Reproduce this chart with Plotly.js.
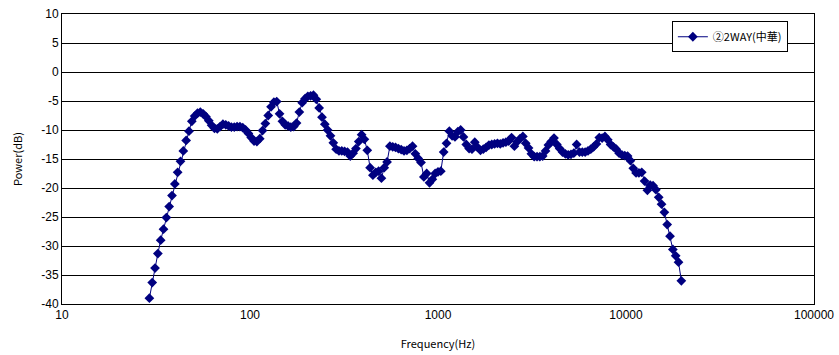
<!DOCTYPE html>
<html>
<head>
<meta charset="utf-8">
<script src="https://cdn.plot.ly/plotly-3.0.1.min.js"></script>
<style>
html,body{margin:0;padding:0;background:#fff;}
#chart{width:839px;height:355px;}
</style>
</head>
<body>
<div id="chart"></div>
<script>
// Frequencies (Hz), 1/20-octave points
const freqs = [
  29.16, 30.19,
  31.25, 32.35, 33.49, 34.67, 35.90, 37.16, 38.47, 39.83, 41.23, 42.69, 44.19, 45.75, 47.37, 49.04, 50.77, 52.56, 54.41, 56.33, 58.32, 60.37,
  62.5, 64.71, 66.99, 69.35, 71.79, 74.33, 76.95, 79.66, 82.47, 85.38, 88.39, 91.51, 94.73, 98.08, 101.5, 105.1, 108.8, 112.7, 116.6, 120.7,
  125, 129.4, 134.0, 138.7, 143.6, 148.7, 153.9, 159.3, 164.9, 170.8, 176.8, 183.0, 189.5, 196.2, 203.1, 210.2, 217.6, 225.3, 233.3, 241.5,
  250, 258.8, 268.0, 277.4, 287.2, 297.3, 307.8, 318.6, 329.9, 341.5, 353.6, 366.0, 378.9, 392.3, 406.1, 420.5, 435.3, 450.6, 466.5, 483.0,
  500, 517.6, 535.9, 554.8, 574.4, 594.6, 615.6, 637.3, 659.8, 683.0, 707.1, 732.0, 757.9, 784.6, 812.3, 840.9, 870.6, 901.3, 933.0, 965.9,
  1000, 1035, 1072, 1110, 1149, 1189, 1231, 1275, 1320, 1366, 1414, 1464, 1516, 1569, 1625, 1682, 1741, 1803, 1866, 1932,
  2000, 2071, 2144, 2219, 2297, 2378, 2462, 2549, 2639, 2732, 2828, 2928, 3031, 3138, 3249, 3364, 3482, 3605, 3732, 3864,
  4000, 4141, 4287, 4438, 4595, 4757, 4925, 5098, 5278, 5464, 5657, 5856, 6063, 6277, 6498, 6727, 6964, 7210, 7464, 7727,
  8000, 8282, 8574, 8877, 9190, 9514, 9849, 10197, 10556, 10928, 11314, 11713, 12126, 12553, 12996, 13454, 13929, 14420, 14929, 15455,
  16000, 16564, 17148, 17753, 18379, 19027, 19698
];
// Power (dB)
const power = [
  -39.0, -36.3, -33.8, -31.3, -29.0, -27.1, -25.1, -23.2, -21.3, -19.3, -17.3, -15.4, -13.6, -11.8, -10.2, -8.5, -7.6, -7.1, -6.9, -7.2, -7.7, -8.4,
  -9.2, -9.7, -9.8, -9.4, -9.0, -9.1, -9.3, -9.5, -9.5, -9.4, -9.4, -9.6, -10.0, -10.6, -11.3, -11.9, -12.0, -11.5, -10.1, -8.9,
  -7.5, -6.0, -5.2, -5.1, -7.2, -8.5, -9.1, -9.3, -9.5, -9.4, -8.8, -6.9, -5.3, -4.6, -4.2, -4.1, -4.0, -4.7, -6.2, -7.8,
  -9.0, -10.0, -11.0, -12.2, -13.3, -13.6, -13.6, -13.7, -13.8, -14.5, -14.0, -13.2, -12.0, -10.8, -11.6, -13.5, -16.5, -17.8, -17.3, -17.1,
  -18.3, -16.5, -15.5, -12.8, -12.9, -13.0, -13.2, -13.4, -13.6, -13.5, -13.2, -12.8, -14.1, -14.9, -15.6, -18.1, -17.5, -19.1, -18.5, -17.5,
  -17.2, -17.1, -13.8, -12.3, -10.2, -11.0, -11.2, -10.3, -10.0, -11.2, -12.5, -13.2, -13.3, -12.1, -13.0, -13.5, -13.3, -13.0, -12.6, -12.5,
  -12.4, -12.3, -12.4, -12.2, -12.1, -11.9, -11.3, -12.8, -12.0, -11.5, -11.1, -12.3, -13.1, -14.1, -14.6, -14.6, -14.6, -14.5, -13.6, -12.6,
  -12.0, -11.4, -12.5, -13.2, -13.8, -14.1, -14.3, -14.2, -14.0, -12.5, -13.8, -13.8, -13.8, -13.6, -13.3, -12.9, -12.4, -11.3, -11.4, -11.1,
  -11.7, -12.5, -12.9, -13.3, -14.0, -14.3, -14.4, -14.5, -15.3, -16.6, -17.4, -17.4, -17.3, -18.8, -20.4, -19.5, -19.6, -20.3, -21.6, -22.8,
  -24.2, -26.3, -28.3, -30.6, -31.7, -32.8, -36.0
];
const seriesName = "②2WAY(中華)";
const xTickVals = [10, 100, 1000, 10000, 100000];
const xTickText = ["10", "100", "1000", "10000", "100000"];
const yTickVals = [10, 5, 0, -5, -10, -15, -20, -25, -30, -35, -40];
const yTickText = ["10", "5", "0", "-5", "-10", "-15", "-20", "-25", "-30", "-35", "-40"];

const fontFam = "Liberation Sans, Noto Sans CJK JP, sans-serif";
const navy = "#000080";

const trace = {
  x: freqs, y: power, name: seriesName, type: "scatter", mode: "lines+markers",
  line: {color: navy, width: 1},
  marker: {symbol: "diamond", size: 7.5, color: navy, line: {width: 0}},
  showlegend: true
};

const layout = {
  width: 839, height: 355,
  margin: {l: 62, r: 25, t: 14, b: 51, pad: 0},
  paper_bgcolor: "#fff", plot_bgcolor: "#fff",
  font: {family: fontFam, size: 12, color: "#000"},
  xaxis: {
    type: "log", range: [1, 5],
    tickvals: xTickVals, ticktext: xTickText,
    showgrid: false, zeroline: false,
    showline: true, linecolor: "#000", linewidth: 1, mirror: true,
    ticks: "", tickfont: {size: 12, family: fontFam},
    title: {text: "Frequency(Hz)", font: {size: 11, family: "Noto Sans CJK JP, sans-serif"}, standoff: 18}
  },
  yaxis: {
    range: [-40, 10],
    tickvals: yTickVals, ticktext: yTickText,
    showgrid: true, gridcolor: "#000", gridwidth: 1,
    zeroline: false,
    showline: true, linecolor: "#000", linewidth: 1, mirror: true,
    ticks: "", tickfont: {size: 12, family: fontFam},
    title: {text: "Power(dB)", font: {size: 11, family: "Noto Sans CJK JP, sans-serif"}, standoff: 16}
  },
  legend: {
    x: 0.811, y: 0.975, xanchor: "left", yanchor: "top",
    bgcolor: "#fff", bordercolor: "#000", borderwidth: 1,
    font: {size: 11, family: "Noto Sans CJK JP, sans-serif"},
    itemwidth: 30, tracegroupgap: 0
  }
};

Plotly.newPlot("chart", [trace], layout, {staticPlot: true, displayModeBar: false});
</script>
</body>
</html>
